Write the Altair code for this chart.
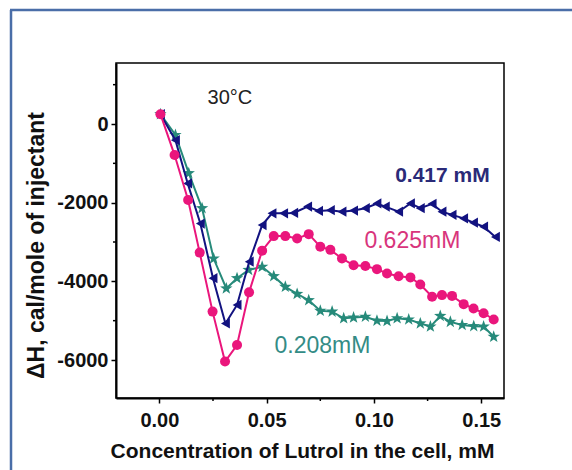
import altair as alt
import pandas as pd

# ---- data ----
navy_x = [0.0005, 0.0075, 0.0132, 0.0191, 0.0250, 0.0308, 0.0362, 0.0419, 0.0479, 0.0525,
          0.0579, 0.0626, 0.0691, 0.0742, 0.0797, 0.0851, 0.0905, 0.0960, 0.1014, 0.1053,
          0.1115, 0.1170, 0.1216, 0.1271, 0.1317, 0.1364, 0.1418, 0.1464, 0.1511, 0.1566]
navy_y = [250, -410, -1510, -2530, -3920, -5070, -4600, -3500, -2570, -2270,
          -2270, -2260, -2100, -2210, -2190, -2230, -2200, -2140, -2020, -2100,
          -2230, -2020, -2140, -2030, -2230, -2310, -2400, -2510, -2610, -2870]

teal_x = [0.0005, 0.0075, 0.0137, 0.0199, 0.0253, 0.0312, 0.0362, 0.0416, 0.0479, 0.0533,
          0.0587, 0.0642, 0.0696, 0.0750, 0.0805, 0.0859, 0.0905, 0.0960, 0.1014, 0.1061,
          0.1108, 0.1162, 0.1216, 0.1263, 0.1309, 0.1356, 0.1411, 0.1465, 0.1511, 0.1558]
teal_y = [250, -280, -1250, -2140, -3420, -4180, -3920, -3710, -3630, -3870,
          -4140, -4320, -4480, -4750, -4770, -4940, -4920, -4900, -5000, -5010,
          -4940, -4970, -5070, -5150, -4880, -5030, -5110, -5140, -5150, -5410]

pink_x = [0.0005, 0.0071, 0.0134, 0.0188, 0.0248, 0.0306, 0.0362, 0.0418, 0.0479, 0.0533,
          0.0587, 0.0642, 0.0696, 0.0750, 0.0797, 0.0851, 0.0905, 0.0960, 0.1014, 0.1061,
          0.1115, 0.1170, 0.1216, 0.1271, 0.1317, 0.1364, 0.1418, 0.1464, 0.1511, 0.1558]
pink_y = [250, -790, -1930, -3270, -4770, -6040, -5620, -4280, -3220, -2850,
          -2850, -2910, -2800, -3120, -3200, -3420, -3590, -3610, -3690, -3800,
          -3870, -3900, -4080, -4390, -4350, -4370, -4580, -4690, -4810, -4970]

x_ticks = [0.0, 0.05, 0.10, 0.15]
x_minor = [0.025, 0.075, 0.125]
y_ticks = [-6000, -4000, -2000, 0]
y_minor = [1000, -1000, -3000, -5000]

ann_text = ["0.417 mM", "0.625mM", "0.208mM", "30°C"]
ann_x = [0.1319, 0.1179, 0.0760, 0.0329]
ann_y = [-1322, -2975, -5645, 661]

FONT = "Liberation Sans, Arial, sans-serif"
NAVY = "#121280"
PINK = "#ea167c"
TEAL = "#268a7a"
STAR = ("M0,-1L0.235,-0.324L0.951,-0.309L0.38,0.124L0.588,0.809L0,0.4"
        "L-0.588,0.809L-0.38,0.124L-0.951,-0.309L-0.235,-0.324Z")

xs = alt.Scale(domain=[-0.0202, 0.1606], nice=False, zero=False)
ys = alt.Scale(domain=[-6966, 1551], nice=False, zero=False)

x_axis = alt.Axis(values=x_ticks, format=".2f", grid=False,
                  labelFont=FONT, labelFontSize=20, labelFontWeight="bold",
                  labelColor="#111111", labelPadding=7,
                  tickSize=5, tickWidth=1.5, tickColor="black",
                  domainColor="black", domainWidth=2,
                  title="Concentration of Lutrol in the cell, mM",
                  titleFont=FONT, titleFontSize=21, titleFontWeight="bold",
                  titleColor="#111111", titleX=186, titleY=59,
                  titleBaseline="alphabetic", titleAlign="center")
y_axis = alt.Axis(values=y_ticks, labelExpr="'' + datum.value", grid=False,
                  labelFont=FONT, labelFontSize=20, labelFontWeight="bold",
                  labelColor="#111111", labelPadding=3,
                  tickSize=5, tickWidth=1.5, tickColor="black",
                  domainColor="black", domainWidth=2,
                  title="ΔH, cal/mole of injectant",
                  titleFont=FONT, titleFontSize=23, titleFontWeight="bold",
                  titleColor="#111111", titleX=-80, titleY=182,
                  titleAngle=270, titleBaseline="middle", titleAlign="center")


def series(xv, yv, color, shape, size):
    df = pd.DataFrame({"x": xv, "y": yv})
    base = alt.Chart(df)
    line = base.mark_line(color=color, strokeWidth=2).encode(
        x=alt.X("x:Q", scale=xs, axis=x_axis),
        y=alt.Y("y:Q", scale=ys, axis=y_axis))
    pts = base.mark_point(shape=shape, filled=True, color=color, size=size,
                          opacity=1).encode(x="x:Q", y="y:Q")
    return line + pts


teal = series(teal_x, teal_y, TEAL, STAR, 170)
navy = series(navy_x, navy_y, NAVY, "triangle-left", 105)
pink = series(pink_x, pink_y, PINK, "circle", 100)

ann = pd.DataFrame({"t": ann_text, "x": ann_x, "y": ann_y,
                    "c": ["#2a2a78", "#d8357c", "#338c86", "#222222"],
                    "w": ["bold", "normal", "normal", "normal"],
                    "s": [21, 23, 23, 20]})
labels = alt.layer(*[
    alt.Chart(ann.iloc[[i]]).mark_text(font=FONT, fontSize=int(ann.s[i]),
                                       fontWeight=ann.w[i], color=ann.c[i],
                                       baseline="middle", align="center")
    .encode(x="x:Q", y="y:Q", text="t:N")
    for i in range(len(ann))
])

one = pd.DataFrame({"a": [0]})
xminor_df = pd.DataFrame({"x": x_minor})
yminor_df = pd.DataFrame({"y": y_minor})
xmin = alt.Chart(xminor_df).mark_rule(color="black", strokeWidth=1.5).encode(
    x="x:Q", y=alt.value(335), y2=alt.value(338))
ymin = alt.Chart(yminor_df).mark_rule(color="black", strokeWidth=1.5).encode(
    y="y:Q", x=alt.value(-3), x2=alt.value(0))
border_left = alt.Chart(one).mark_rule(color="#4a6ea8", strokeWidth=2.5).encode(
    x=alt.value(-105), y=alt.value(-53), y2=alt.value(410))
border_top = alt.Chart(one).mark_rule(color="#4a6ea8", strokeWidth=2.5).encode(
    y=alt.value(-53), x=alt.value(-106), x2=alt.value(460))

chart = alt.layer(teal, navy, pink, labels, xmin, ymin, border_left, border_top).properties(
    width=388, height=335,
    autosize=alt.AutoSizeParams(type="none"),
    padding={"left": 116, "top": 63, "right": 68, "bottom": 72},
    background="white",
).configure_view(stroke="black", strokeWidth=1.5)

chart.save("out.html", embed_options={"renderer": "svg", "actions": False})
